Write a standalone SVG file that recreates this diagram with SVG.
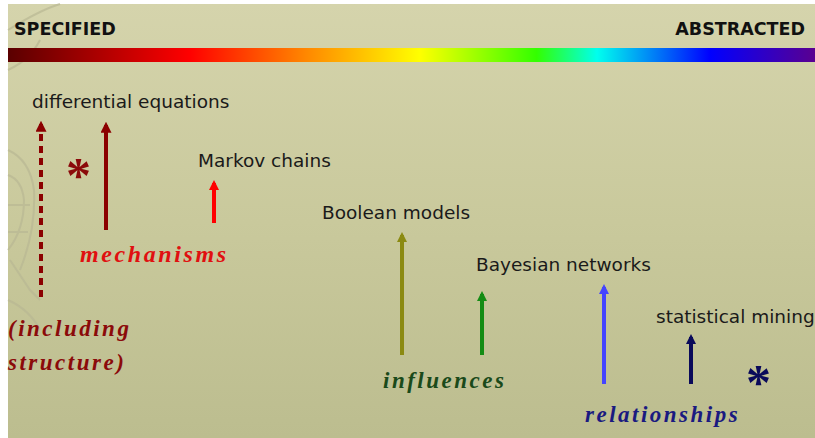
<svg xmlns="http://www.w3.org/2000/svg" width="815" height="438" viewBox="0 0 815 438">
  <defs>
    <linearGradient id="bg" x1="0" y1="0" x2="0" y2="1">
      <stop offset="0" stop-color="#d5d4ac"/>
      <stop offset="0.5" stop-color="#c9c99c"/>
      <stop offset="1" stop-color="#bcbd8f"/>
    </linearGradient>
    <linearGradient id="spectrum" x1="0" y1="0" x2="1" y2="0">
      <stop offset="0" stop-color="#5a0000"/>
      <stop offset="0.225" stop-color="#ff0000"/>
      <stop offset="0.37" stop-color="#ff8800"/>
      <stop offset="0.51" stop-color="#ffff00"/>
      <stop offset="0.655" stop-color="#33ff00"/>
      <stop offset="0.73" stop-color="#00ffee"/>
      <stop offset="0.87" stop-color="#0000ff"/>
      <stop offset="1" stop-color="#5a0090"/>
    </linearGradient>
    <marker id="head-darkred" viewBox="0 0 10 10" refX="7" refY="5" markerUnits="userSpaceOnUse" markerWidth="11" markerHeight="11" orient="auto">
      <path d="M0,0 L10,5 L0,10 Z" fill="#8b0000"/>
    </marker>
    <marker id="head-red" viewBox="0 0 10 10" refX="7" refY="5" markerUnits="userSpaceOnUse" markerWidth="10" markerHeight="10" orient="auto">
      <path d="M0,0 L10,5 L0,10 Z" fill="#ff0000"/>
    </marker>
    <marker id="head-olive" viewBox="0 0 10 10" refX="7" refY="5" markerUnits="userSpaceOnUse" markerWidth="10" markerHeight="10" orient="auto">
      <path d="M0,0 L10,5 L0,10 Z" fill="#8b8a12"/>
    </marker>
    <marker id="head-green" viewBox="0 0 10 10" refX="7" refY="5" markerUnits="userSpaceOnUse" markerWidth="10" markerHeight="10" orient="auto">
      <path d="M0,0 L10,5 L0,10 Z" fill="#148c14"/>
    </marker>
    <marker id="head-blue" viewBox="0 0 10 10" refX="7" refY="5" markerUnits="userSpaceOnUse" markerWidth="10" markerHeight="10" orient="auto">
      <path d="M0,0 L10,5 L0,10 Z" fill="#4444ff"/>
    </marker>
    <marker id="head-navy" viewBox="0 0 10 10" refX="7" refY="5" markerUnits="userSpaceOnUse" markerWidth="10" markerHeight="10" orient="auto">
      <path d="M0,0 L10,5 L0,10 Z" fill="#0a0a5a"/>
    </marker>
  </defs>
  <style>
    .end { font-family: "DejaVu Sans", Verdana, sans-serif; font-weight: bold; font-size: 17.5px; fill: #111; }
    .label { font-family: "DejaVu Sans", Verdana, sans-serif; font-size: 18.5px; fill: #1a1a1a; }
    .cat { font-family: "Liberation Serif", "Times New Roman", serif; font-weight: bold; font-style: italic; font-size: 23px; letter-spacing: 2.5px; }
    .cat.wide { font-size: 24px; letter-spacing: 2.6px; }
    .star { font-family: "Liberation Serif", "Times New Roman", serif; font-weight: bold; font-size: 50px; }
    .shaft { fill: none; stroke-width: 4; }
    .ornament { fill: none; stroke: #b9b894; stroke-width: 2; opacity: 0.7; }
  </style>

  <!-- page -->
  <rect x="0" y="0" width="815" height="438" fill="#ffffff"/>
  <rect x="8" y="4" width="807" height="434" fill="url(#bg)"/>

  <!-- faint ornament down the left margin -->
  <g class="ornament">
    <path d="M8,30 Q40,10 60,4"/>
    <path d="M8,70 Q30,60 40,40"/>
    <path d="M8,150 Q30,160 34,190 Q36,230 20,270"/>
    <path d="M8,175 Q22,180 24,200 Q24,230 8,250"/>
    <path d="M8,205 L30,205"/>
    <path d="M8,232 L28,232"/>
    <path d="M10,260 L30,290 L40,300"/>
    <path d="M8,300 Q30,310 40,330"/>
  </g>

  <!-- spectrum bar -->
  <rect x="8" y="48" width="807" height="14" fill="url(#spectrum)"/>
  <text class="end" x="14" y="35">SPECIFIED</text>
  <text class="end" x="805" y="35" text-anchor="end">ABSTRACTED</text>

  <!-- connectors -->
  <g id="connectors">
    <line class="shaft" x1="41" y1="297" x2="41" y2="124" stroke="#8b0000" stroke-width="2.5" stroke-dasharray="7,5" marker-end="url(#head-darkred)"/>
    <line class="shaft" x1="106" y1="230" x2="106" y2="125" stroke="#8b0000" marker-end="url(#head-darkred)"/>
    <line class="shaft" x1="214" y1="223" x2="214" y2="183" stroke="#ff0000" marker-end="url(#head-red)"/>
    <line class="shaft" x1="402" y1="355" x2="402" y2="235" stroke="#8b8a12" marker-end="url(#head-olive)"/>
    <line class="shaft" x1="482" y1="355" x2="482" y2="294" stroke="#148c14" marker-end="url(#head-green)"/>
    <line class="shaft" x1="604" y1="384" x2="604" y2="287" stroke="#4444ff" marker-end="url(#head-blue)"/>
    <line class="shaft" x1="691" y1="384" x2="691" y2="337" stroke="#0a0a5a" marker-end="url(#head-navy)"/>
  </g>

  <!-- model nodes -->
  <g id="node-differential-equations">
    <text class="label" x="32" y="108">differential equations</text>
  </g>
  <g id="node-markov-chains">
    <text class="label" x="198" y="167">Markov chains</text>
  </g>
  <g id="node-boolean-models">
    <text class="label" x="322" y="219">Boolean models</text>
  </g>
  <g id="node-bayesian-networks">
    <text class="label" x="476" y="271">Bayesian networks</text>
  </g>
  <g id="node-statistical-mining">
    <text class="label" x="656" y="323">statistical mining</text>
  </g>

  <!-- categories -->
  <g id="cat-mechanisms">
    <text class="cat wide" x="80" y="262" fill="#e01010">mechanisms</text>
  </g>
  <g id="cat-structure">
    <text class="cat" x="8" y="336" fill="#8b0a0a">(including</text>
    <text class="cat" x="8" y="370" fill="#8b0a0a">structure)</text>
  </g>
  <g id="cat-influences">
    <text class="cat" x="383" y="388" fill="#1a4a1a">influences</text>
  </g>
  <g id="cat-relationships">
    <text class="cat" x="585" y="422" fill="#1a1a80">relationships</text>
  </g>

  <!-- asterisks -->
  <g id="star-left">
    <text class="star" x="66" y="192" fill="#8b0a0a">*</text>
  </g>
  <g id="star-right">
    <text class="star" x="746" y="399" fill="#0a0a5a">*</text>
  </g>
</svg>
